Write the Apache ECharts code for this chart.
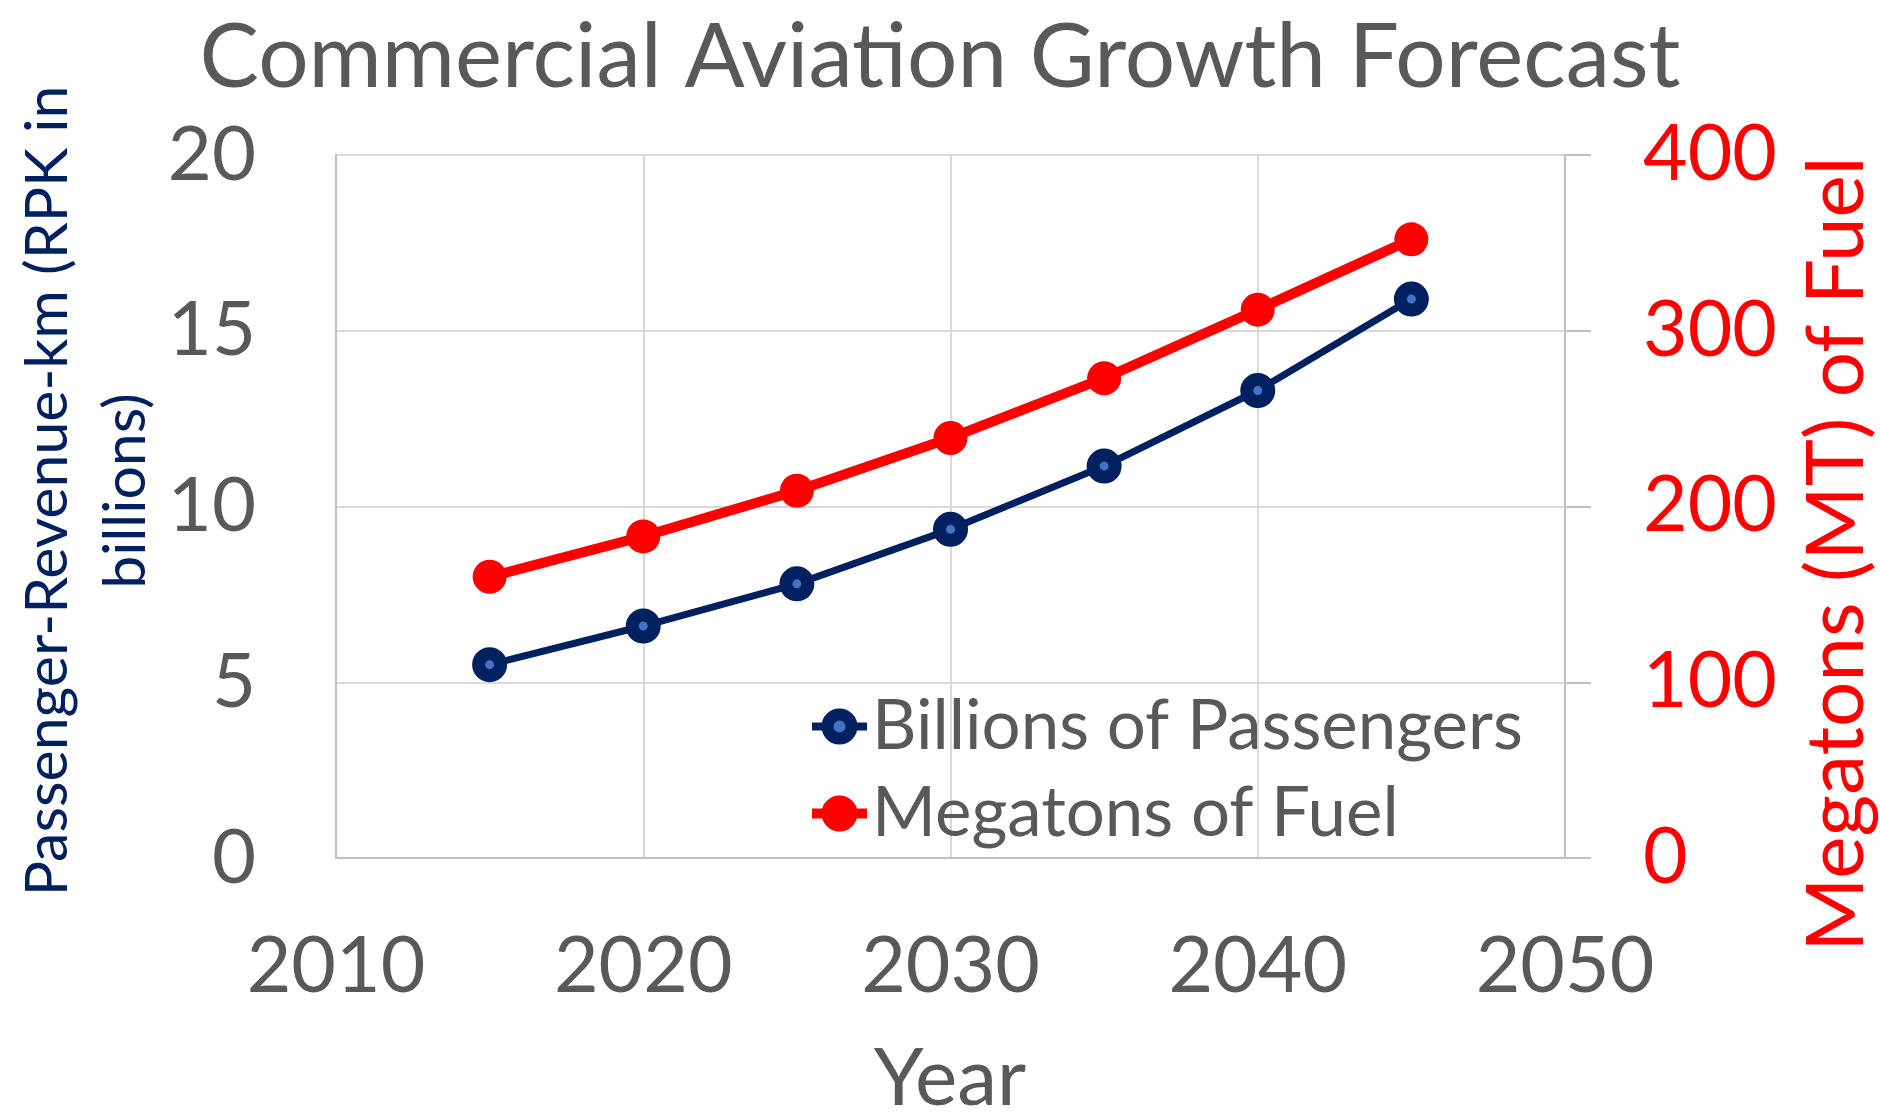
<!DOCTYPE html>
<html>
<head>
<meta charset="utf-8">
<title>Commercial Aviation Growth Forecast</title>
<script src="https://cdn.jsdelivr.net/npm/echarts@6/dist/echarts.min.js"></script>
<style>
  html, body { margin: 0; padding: 0; background: #ffffff; }
  #chart { width: 1880px; height: 1113px; }
</style>
</head>
<body>
<div id="chart"></div>
<script>
// Forecast years and the two series plotted against them
const years = [2015, 2020, 2025, 2030, 2035, 2040, 2045];
const passengers = [5.5, 6.6, 7.8, 9.35, 11.15, 13.3, 15.9];   // left axis
const fuel = [160, 183, 209, 239, 273, 312, 352];              // right axis

const NAVY = '#002060';
const RED = '#FF0000';
const GREY_TEXT = '#595959';
const FONT = 'Lato, "Noto Sans", sans-serif';

const chart = echarts.init(document.getElementById('chart'), null, { renderer: 'canvas' });

chart.setOption({
  backgroundColor: '#ffffff',
  animation: false,
  title: {
    text: 'Commercial Aviation Growth Forecast',
    left: 'center',
    top: 9,
    textStyle: { fontFamily: FONT, fontSize: 89, fontWeight: 'normal', color: GREY_TEXT }
  },
  grid: { left: 336, right: 315, top: 155, bottom: 255, containLabel: false },
  xAxis: {
    type: 'value',
    min: 2010, max: 2050, interval: 10,
    axisLine: { show: true, lineStyle: { color: '#BFBFBF', width: 2 } },
    axisTick: { show: false },
    splitLine: { show: true, lineStyle: { color: '#D9D9D9', width: 2 } },
    axisLabel: {
      fontFamily: FONT, fontSize: 77, color: GREY_TEXT, margin: 71,
      formatter: (v) => String(v)
    }
  },
  yAxis: [
    {
      type: 'value',
      min: 0, max: 20, interval: 5,
      axisLine: { show: true, lineStyle: { color: '#BFBFBF', width: 2 } },
      axisTick: { show: false },
      splitLine: { show: true, lineStyle: { color: '#D9D9D9', width: 2 } },
      axisLabel: { fontFamily: FONT, fontSize: 76, color: GREY_TEXT, margin: 80 }
    },
    {
      type: 'value',
      position: 'right',
      min: 0, max: 400, interval: 100,
      axisLine: { show: true, lineStyle: { color: '#BFBFBF', width: 2 } },
      axisTick: { show: true, length: 26, lineStyle: { color: '#BFBFBF', width: 2 } },
      splitLine: { show: false },
      axisLabel: { fontFamily: FONT, fontSize: 77, color: RED, margin: 78 }
    }
  ],
  legend: {
    orient: 'vertical',
    left: 802,
    top: 683,
    itemWidth: 55,
    itemHeight: 30,
    itemGap: 10,
    textStyle: { fontFamily: FONT, fontSize: 69, color: GREY_TEXT, lineHeight: 77 },
    data: [
      {
        name: 'Billions of Passengers',
        itemStyle: { color: '#4472C4', borderColor: NAVY, borderWidth: 12 },
        lineStyle: { color: NAVY, width: 8 }
      },
      {
        name: 'Megatons of Fuel',
        itemStyle: { color: RED, borderColor: RED, borderWidth: 12 },
        lineStyle: { color: RED, width: 10 }
      }
    ]
  },
  series: [
    {
      name: 'Billions of Passengers',
      type: 'line',
      yAxisIndex: 0,
      data: years.map((y, i) => [y, passengers[i]]),
      symbol: 'circle',
      symbolSize: 22,
      lineStyle: { color: NAVY, width: 7 },
      itemStyle: { color: '#4472C4', borderColor: NAVY, borderWidth: 13 },
      z: 3
    },
    {
      name: 'Megatons of Fuel',
      type: 'line',
      yAxisIndex: 1,
      data: years.map((y, i) => [y, fuel[i]]),
      symbol: 'circle',
      symbolSize: 34,
      lineStyle: { color: RED, width: 10 },
      itemStyle: { color: RED, borderWidth: 0 },
      z: 2
    }
  ],
  graphic: [
    {
      type: 'text',
      x: 87, y: 491,
      rotation: Math.PI / 2,
      style: {
        text: 'Passenger-Revenue-km (RPK in\nbillions)',
        fontFamily: FONT, fontSize: 59, lineHeight: 78,
        fill: NAVY, align: 'center', verticalAlign: 'middle'
      }
    },
    {
      type: 'text',
      x: 1837, y: 554,
      rotation: Math.PI / 2,
      style: {
        text: 'Megatons (MT) of Fuel',
        fontFamily: FONT, fontSize: 80,
        fill: RED, align: 'center', verticalAlign: 'middle'
      }
    },
    {
      type: 'text',
      x: 950, y: 1079,
      style: {
        text: 'Year',
        fontFamily: FONT, fontSize: 80,
        fill: GREY_TEXT, align: 'center', verticalAlign: 'middle'
      }
    }
  ]
});
</script>
</body>
</html>
